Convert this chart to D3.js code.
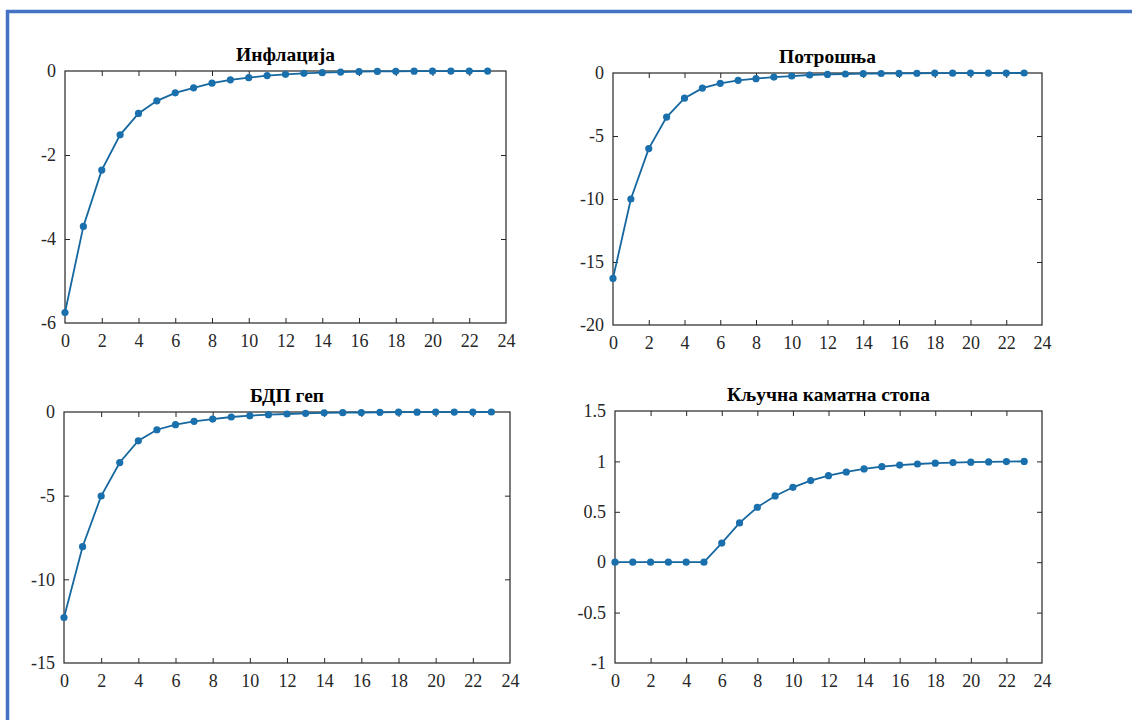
<!DOCTYPE html>
<html>
<head>
<meta charset="utf-8">
<script src="https://cdn.jsdelivr.net/npm/d3@7/dist/d3.min.js"></script>
<style>
  html, body { margin: 0; padding: 0; background: #fff; }
  svg { display: block; }
</style>
</head>
<body>
<svg id="chart" width="1132" height="720"></svg>
<script>
// Impulse responses over 24 periods
const periods = [0, 1, 2, 3, 4, 5, 6, 7, 8, 9, 10, 11, 12, 13, 14, 15, 16, 17, 18, 19, 20, 21, 22, 23];

const inflation = [-5.75, -3.70, -2.36, -1.52, -1.01, -0.71, -0.52, -0.40, -0.29, -0.21, -0.16, -0.11,
  -0.08, -0.055, -0.04, -0.025, -0.016, -0.011, -0.008, -0.005, -0.003, -0.002, -0.001, -0.001];

const consumption = [-16.3, -10.0, -6.0, -3.5, -2.0, -1.2, -0.82, -0.58, -0.45, -0.32, -0.24, -0.16,
  -0.11, -0.08, -0.05, -0.04, -0.03, -0.02, -0.01, -0.01, -0.005, -0.003, -0.002, -0.001];

const gdpGap = [-12.28, -8.05, -5.02, -3.02, -1.72, -1.06, -0.76, -0.56, -0.42, -0.30, -0.22, -0.16,
  -0.12, -0.08, -0.05, -0.04, -0.03, -0.02, -0.01, -0.01, -0.005, -0.003, -0.002, -0.001];

const policyRate = [0, 0, 0, 0, 0, 0, 0.19, 0.39, 0.545, 0.657, 0.743, 0.81,
  0.858, 0.895, 0.925, 0.948, 0.964, 0.974, 0.982, 0.988, 0.992, 0.995, 0.998, 1.0];

const titles = ["Инфлација", "Потрошња", "БДП геп", "Кључна каматна стопа"];
const seriesList = [inflation, consumption, gdpGap, policyRate];
const yDomains = [[-6, 0], [-20, 0], [-15, 0], [-1, 1.5]];
const yTickValues = [[0, -2, -4, -6], [0, -5, -10, -15, -20], [0, -5, -10, -15], [1.5, 1, 0.5, 0, -0.5, -1]];
const xTickValues = [0, 2, 4, 6, 8, 10, 12, 14, 16, 18, 20, 22, 24];

// Axes boxes: left, right, top, bottom
const boxes = [
  { l: 65, r: 506, t: 71, b: 323 },
  { l: 613, r: 1042, t: 73, b: 325 },
  { l: 64, r: 510, t: 412, b: 663 },
  { l: 615, r: 1042, t: 411, b: 663 }
];

const lineColor = "#15679f";
const markerColor = "#1a6fad";
const axisColor = "#262626";
const fontFamily = "Liberation Serif, Times New Roman, serif";

const svg = d3.select("#chart");

// Frame lines along the left and top edges
svg.append("path")
  .attr("d", "M7.5,720 L7.5,11.5 L1132,11.5")
  .attr("fill", "none")
  .attr("stroke", "#4472c4")
  .attr("stroke-width", 3.5);

const fmt = d => String(d);

boxes.forEach((box, i) => {
  const x = d3.scaleLinear().domain([0, 24]).range([box.l, box.r]);
  const y = d3.scaleLinear().domain(yDomains[i]).range([box.b, box.t]);
  const g = svg.append("g");

  const tickLen = 5;

  // Bottom axis with labels, ticks pointing inward
  const xb = g.append("g").attr("transform", `translate(0,${box.b})`)
    .call(d3.axisBottom(x).tickValues(xTickValues).tickSizeInner(-tickLen).tickSizeOuter(0).tickPadding(11).tickFormat(fmt));
  // Top axis, ticks only
  const xt = g.append("g").attr("transform", `translate(0,${box.t})`)
    .call(d3.axisTop(x).tickValues(xTickValues).tickSizeInner(-tickLen).tickSizeOuter(0).tickFormat(""));
  // Left axis with labels
  const yl = g.append("g").attr("transform", `translate(${box.l},0)`)
    .call(d3.axisLeft(y).tickValues(yTickValues[i]).tickSizeInner(-tickLen).tickSizeOuter(0).tickPadding(9).tickFormat(fmt));
  // Right axis, ticks only
  const yr = g.append("g").attr("transform", `translate(${box.r},0)`)
    .call(d3.axisRight(y).tickValues(yTickValues[i]).tickSizeInner(-tickLen).tickSizeOuter(0).tickFormat(""));

  [xb, xt, yl, yr].forEach(a => {
    a.attr("font-family", fontFamily).attr("font-size", 18);
    a.select(".domain").remove();
    a.selectAll(".tick line").attr("stroke", axisColor).attr("stroke-width", 1);
    a.selectAll(".tick text").attr("fill", axisColor);
  });
  // Hide ticks that sit exactly on the box corners
  [xb, xt].forEach(a => a.selectAll(".tick line").filter(d => d === 0 || d === 24).remove());
  [yl, yr].forEach(a => a.selectAll(".tick line").filter(d => d === yDomains[i][0] || d === yDomains[i][1]).remove());

  // Box outline
  g.append("rect")
    .attr("x", box.l).attr("y", box.t)
    .attr("width", box.r - box.l).attr("height", box.b - box.t)
    .attr("fill", "none").attr("stroke", axisColor).attr("stroke-width", 1.2);

  // Series line
  const pts = periods.map((p, k) => [p, seriesList[i][k]]);
  g.append("path")
    .datum(pts)
    .attr("fill", "none")
    .attr("stroke", lineColor)
    .attr("stroke-width", 1.8)
    .attr("d", d3.line().x(d => x(d[0])).y(d => y(d[1])));

  g.selectAll("circle.pt").data(pts).join("circle")
    .attr("class", "pt")
    .attr("cx", d => x(d[0]))
    .attr("cy", d => y(d[1]))
    .attr("r", 3.6)
    .attr("fill", markerColor);

  // Panel title
  g.append("text")
    .attr("x", (box.l + box.r) / 2)
    .attr("y", box.t - 10)
    .attr("text-anchor", "middle")
    .attr("fill", "#000")
    .attr("font-family", fontFamily)
    .attr("font-weight", "bold")
    .attr("font-size", 19.5)
    .text(titles[i]);
});
</script>
</body>
</html>
